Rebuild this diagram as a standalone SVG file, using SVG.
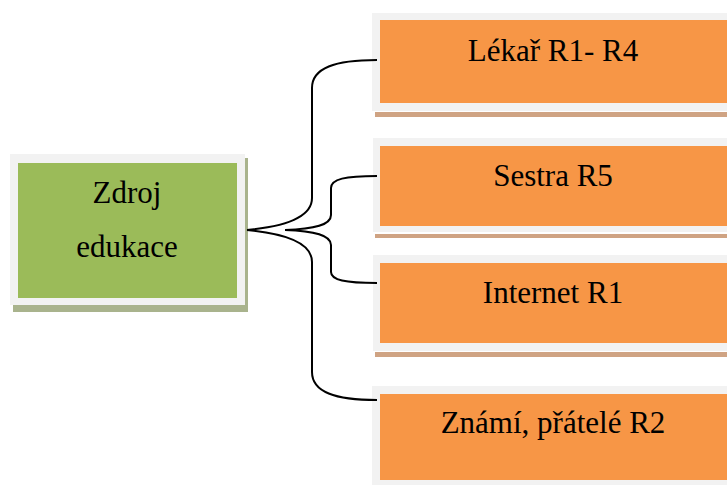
<svg xmlns="http://www.w3.org/2000/svg" width="727" height="485" viewBox="0 0 727 485">
  <style>
    .frame { fill: #f2f2f2; }
    .green { fill: #9bbb59; }
    .orange { fill: #f79646; }
    .shadow-g { fill: #a9b38d; }
    .shadow-o { fill: #cfa383; }
    .label { font-family: "Liberation Serif", "Times New Roman", serif; font-size: 31px; fill: #000; text-anchor: middle; }
    .conn { fill: none; stroke: #000; stroke-width: 2; }
  </style>
  <rect width="727" height="485" fill="#fff"/>

  <!-- root node -->
  <g id="zdroj">
    <rect class="shadow-g" x="13" y="158" width="235" height="154"/>
    <rect class="frame" x="10" y="154" width="235" height="151"/>
    <rect class="green" x="18" y="163" width="219" height="135"/>
    <text class="label" x="127" y="203">Zdroj</text>
    <text class="label" x="127" y="257">edukace</text>
  </g>

  <!-- leaf nodes -->
  <g id="lekar">
    <rect class="shadow-o" x="375" y="112" width="352" height="5"/>
    <rect class="frame" x="372" y="13" width="355" height="98"/>
    <rect class="orange" x="380" y="20" width="347" height="83"/>
    <text class="label" x="553" y="61">Lékař R1- R4</text>
  </g>
  <g id="sestra">
    <rect class="shadow-o" x="375" y="234" width="352" height="4"/>
    <rect class="frame" x="373" y="138" width="354" height="94"/>
    <rect class="orange" x="380" y="146" width="347" height="80"/>
    <text class="label" x="553" y="186">Sestra R5</text>
  </g>
  <g id="internet">
    <rect class="shadow-o" x="375" y="352" width="352" height="5"/>
    <rect class="frame" x="373" y="255" width="354" height="96"/>
    <rect class="orange" x="380" y="263" width="347" height="80"/>
    <text class="label" x="553" y="303">Internet R1</text>
  </g>
  <g id="znami">
    <rect class="frame" x="372" y="386" width="355" height="99"/>
    <rect class="orange" x="380" y="394" width="347" height="86"/>
    <text class="label" x="553" y="433">Známí, přátelé R2</text>
  </g>

  <!-- bracket connectors -->
  <g id="connectors">
    <path class="conn" d="M247,230 C290,226 312,216 312,198 L312,88 C312,68 335,60 377,60"/>
    <path class="conn" d="M247,230 C290,234 312,244 312,262 L312,372 C312,392 335,400 377,400"/>
    <path class="conn" d="M285,230 C315,229 331,225 331,215 L331,188 C331,179 345,176 377,176"/>
    <path class="conn" d="M285,230 C315,231 331,235 331,245 L331,272 C331,280 345,283 377,283"/>
  </g>
</svg>
